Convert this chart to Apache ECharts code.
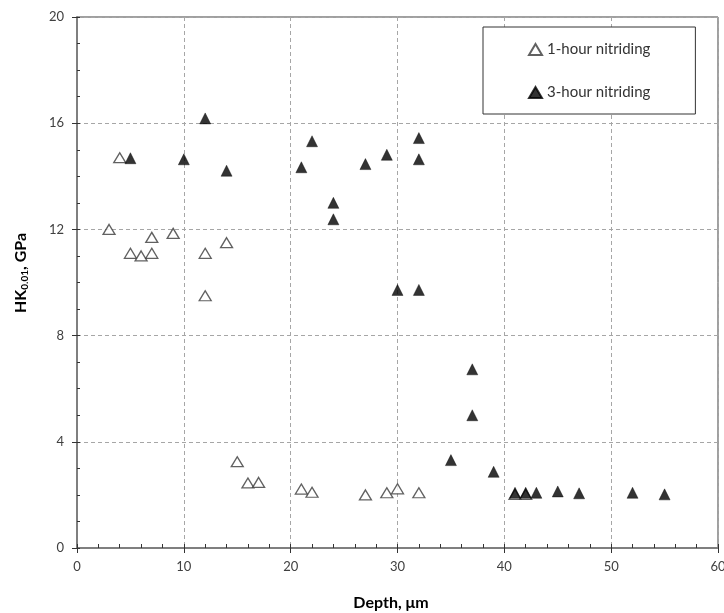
<!DOCTYPE html>
<html>
<head>
<meta charset="utf-8">
<script src="https://cdn.jsdelivr.net/npm/echarts@6/dist/echarts.min.js"></script>
<style>
  html, body { margin: 0; padding: 0; background: #fff; }
  #chart { width: 724px; height: 613px; }
</style>
</head>
<body>
<div id="chart"></div>
<script>
// Microhardness profiles (HK0.01) versus depth after nitriding
const seriesNames = ['1-hour nitriding', '3-hour nitriding'];

const depth1h = [3, 4, 5, 6, 7, 7, 9, 12, 12, 14, 15, 16, 17, 21, 22, 27, 29, 30, 32, 41, 42];
const hardness1h = [12.0, 14.7, 11.1, 11.0, 11.1, 11.7, 11.85, 11.1, 9.5, 11.5, 3.25, 2.45, 2.47, 2.22, 2.1, 2.0, 2.08, 2.23, 2.08, 2.02, 2.02];

const depth3h = [5, 10, 12, 14, 21, 22, 24, 24, 27, 29, 30, 32, 32, 32, 35, 37, 37, 39, 41, 42, 43, 45, 47, 52, 55];
const hardness3h = [14.68, 14.64, 16.18, 14.21, 14.34, 15.32, 13.0, 12.38, 14.46, 14.81, 9.72, 15.44, 14.64, 9.72, 3.31, 6.73, 5.0, 2.87, 2.08, 2.08, 2.08, 2.13, 2.06, 2.08, 2.02];

const xRange = { min: 0, max: 60, interval: 10 };
const yRange = { min: 0, max: 20, interval: 4 };

function pairs(xs, ys) {
  return xs.map((x, i) => [x, ys[i]]);
}

const FONT = 'Lato, "Open Sans", "DejaVu Sans", sans-serif';
const labelColor = '#404040';
const axisGrey = '#7f7f7f';

function valueAxis(range, opts) {
  return Object.assign({
    type: 'value',
    min: range.min,
    max: range.max,
    interval: range.interval
  }, opts);
}

const chart = echarts.init(document.getElementById('chart'), null, { renderer: 'canvas' });

chart.setOption({
  animation: false,
  backgroundColor: '#fff',
  textStyle: { fontFamily: FONT },
  grid: {
    left: 77, top: 17, right: 6, bottom: 65,
    containLabel: false,
    outerBoundsMode: 'none',
    show: true,
    borderColor: '#404040',
    borderWidth: 1,
    backgroundColor: 'transparent'
  },
  xAxis: [
    // labelled axis with outward major ticks and dashed grid
    valueAxis(xRange, {
      position: 'bottom',
      axisLine: { show: true, lineStyle: { color: axisGrey, width: 2 } },
      axisTick: { show: true, inside: false, length: 5, lineStyle: { color: '#333', width: 1 } },
      axisLabel: { color: labelColor, fontSize: 13, fontFamily: FONT, margin: 12 },
      splitLine: { show: true, lineStyle: { color: '#a6a6a6', width: 1, type: [4, 3] } }
    }),
    // inward major + minor ticks
    valueAxis(xRange, {
      position: 'bottom',
      axisLine: { show: false },
      axisTick: { show: true, inside: true, length: 4, lineStyle: { color: '#333', width: 1 } },
      minorTick: { show: true, splitNumber: 5, length: 4, lineStyle: { color: '#333', width: 1 } },
      axisLabel: { show: false },
      splitLine: { show: false }
    })
  ],
  yAxis: [
    valueAxis(yRange, {
      position: 'left',
      axisLine: { show: true, lineStyle: { color: axisGrey, width: 2 } },
      axisTick: { show: true, inside: false, length: 5, lineStyle: { color: '#333', width: 1 } },
      axisLabel: { color: labelColor, fontSize: 13, fontFamily: FONT, margin: 13 },
      splitLine: { show: true, lineStyle: { color: '#a6a6a6', width: 1, type: [4, 3] } }
    }),
    valueAxis(yRange, {
      position: 'left',
      axisLine: { show: false },
      axisTick: { show: true, inside: true, length: 3, lineStyle: { color: '#333', width: 1 } },
      minorTick: { show: true, splitNumber: 4, length: 3, lineStyle: { color: '#333', width: 1 } },
      axisLabel: { show: false },
      splitLine: { show: false }
    })
  ],
  legend: {
    orient: 'vertical',
    left: 483,
    top: 27,
    padding: [15, 45, 14, 45],
    itemGap: 28,
    itemWidth: 13,
    itemHeight: 11,
    borderColor: '#333',
    borderWidth: 1,
    backgroundColor: '#fff',
    textStyle: { color: '#333', fontSize: 15, fontFamily: FONT, padding: [0, 0, 0, 0] },
    data: seriesNames
  },
  graphic: [
    {
      type: 'text',
      x: 391, y: 603,
      style: {
        text: 'Depth, μm',
        align: 'center', verticalAlign: 'middle',
        font: 'bold 16px ' + FONT,
        fill: '#000'
      },
      z: 10
    },
    {
      type: 'text',
      x: 21, y: 273,
      rotation: Math.PI / 2,
      style: {
        text: '{main|HK}{sub|0.01}{main|, GPa}',
        align: 'center', verticalAlign: 'middle',
        rich: {
          main: { font: 'bold 16px ' + FONT, fill: '#000' },
          sub: { font: 'bold 10px ' + FONT, fill: '#000', padding: [7, 0, 0, 0] }
        }
      },
      z: 10
    }
  ],
  series: [
    {
      name: seriesNames[0],
      type: 'scatter',
      xAxisIndex: 0, yAxisIndex: 0,
      symbol: 'triangle',
      symbolSize: [12, 10],
      itemStyle: { color: '#fff', borderColor: '#3a3a3a', borderWidth: 1.3 },
      data: pairs(depth1h, hardness1h),
      z: 3
    },
    {
      name: seriesNames[1],
      type: 'scatter',
      xAxisIndex: 0, yAxisIndex: 0,
      symbol: 'triangle',
      symbolSize: [11, 11],
      itemStyle: { color: '#000', borderColor: '#000', borderWidth: 0.5 },
      data: pairs(depth3h, hardness3h),
      z: 4
    }
  ]
});
</script>
</body>
</html>
